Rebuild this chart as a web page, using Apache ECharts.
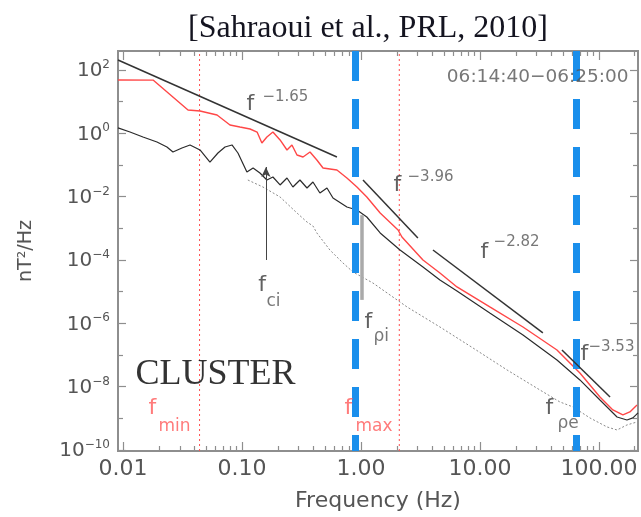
<!DOCTYPE html>
<html><head><meta charset="utf-8">
<script src="https://cdn.jsdelivr.net/npm/echarts@6/dist/echarts.min.js"></script>
<style>html,body{margin:0;padding:0;background:#fff}#c{width:641px;height:517px}</style>
</head><body><div id="c"></div>
<script>
// ---- data: frequency (Hz) and PSD (nT^2/Hz) ----
const redFreq = [0.00908,0.0179,0.0352,0.0444,0.0617,0.0793,0.0961,0.117,0.134,0.147,0.162,0.182,0.209,0.239,0.263,0.290,0.326,0.373,0.426,0.480,0.628,0.762,0.925,1.12,1.45,2.05,2.21,3.32,4.61,6.41,12.1,23.0,44.4,69.2,102,131,159,182,209];
const redPsd = [48.3,48,5.46,5.07,3.79,1.83,1.58,1.37,1.10,0.495,0.766,1.10,0.617,0.298,0.429,0.207,0.179,0.258,0.144,0.0805,0.0695,0.0389,0.0202,0.00977,0.00305,8.87e-4,5.33e-4,1.0e-4,3.89e-5,1.41e-5,3.29e-6,7.67e-7,1.44e-7,2.71e-8,4.73e-9,1.84e-9,1.28e-9,1.59e-9,2.64e-9];

const blackFreq = [0.00908,0.01145,0.01472,0.0193,0.0234,0.0263,0.0313,0.0366,0.0444,0.0538,0.0628,0.0720,0.0824,0.0925,0.110,0.124,0.1416,0.162,0.182,0.209,0.239,0.268,0.307,0.352,0.395,0.452,0.518,0.582,0.762,0.925,1.12,1.45,2.13,3.32,4.61,6.41,12.1,23.0,44.4,69.2,102,142,172,193,213];
const blackPsd = [1.48,1.10,0.766,0.533,0.371,0.258,0.344,0.429,0.298,0.124,0.239,0.371,0.429,0.239,0.0601,0.0805,0.0560,0.0336,0.0418,0.0234,0.0389,0.0202,0.0336,0.0188,0.0291,0.0131,0.0188,0.00908,0.00472,0.00379,0.00228,7.13e-4,2.07e-4,6.03e-5,2.34e-5,1.05e-5,2.12e-6,4.29e-7,6.97e-8,1.63e-8,3.80e-9,1.10e-9,8.89e-10,1.03e-9,1.48e-9];

const noiseFreq = [0.112,0.150,0.209,0.290,0.352,0.395,0.426,0.548,0.706,0.857,1.26,2.44,4.61,8.73,16.9,31.9,47.0,60.5,84.0,117,142,172,209];
const noisePsd = [0.0336,0.0202,0.00977,0.00305,0.00158,0.00119,7.13e-4,2.07e-4,8.05e-5,4.19e-5,1.88e-5,3.29e-6,7.67e-7,1.67e-7,3.37e-8,7.87e-9,3.29e-9,2.29e-9,1.03e-9,5.34e-10,4.29e-10,6.18e-10,7.68e-10];

// power-law fit segments (end points)
const fitFreqStart = [0.00908, 1.04, 4.03, 48.9];
const fitPsdStart  = [207, 0.0336, 2.07e-4, 1.44e-7];
const fitFreqEnd   = [0.628, 3.01, 33.8, 124];
const fitPsdEnd    = [0.179, 4.95e-4, 4.97e-7, 4.73e-9];

// vertical markers
const rangeFreq = [0.044, 2.1];          // f_min, f_max (red dotted)
const scaleFreq = [0.89, 65];            // blue dashed
const pointerFreq = [0.159, 1.02];       // f_ci arrow, f_rho_i bar
const pointerLow  = [1.0e-4, 5.5e-6];
const pointerHigh = [0.0865, 2.6e-3];

// axis ranges and ticks
const freqRange = [0.00908, 213];
const psdRange = [9.3e-11, 398];
const xTickValues = [0.01, 0.1, 1, 10, 100];
const xTickLabels = ['0.01', '0.10', '1.00', '10.00', '100.00'];
const yTickExponents = [2, 0, -2, -4, -6, -8, -10];
const yMinorExponents = [1, -1, -3, -5, -7, -9];

// annotations
const annoText = ['f','−1.65','f','−3.96','f','−2.82','f','−3.53','f','ci','f','ρi','f','ρe','f','min','f','max','CLUSTER','06:14:40−06:25:00'];
const annoFreq = [0.108,0.147,1.86,2.44,10.0,12.9,69.2,80.9,0.136,0.159,1.06,1.26,35.2,44.4,0.0162,0.0197,0.719,0.891,0.0126,179];
const annoPsd  = [8.43,14.0,0.0234,0.0418,1.79e-4,3.71e-4,1.08e-7,1.79e-7,1.63e-5,4.72e-6,1.10e-6,3.71e-7,2.12e-9,6.64e-10,2.12e-9,5.33e-10,2.12e-9,5.33e-10,2.34e-8,60.1];
const annoKind = ['f','sup','f','sup','f','sup','f','sup','f','sub','f','sub','f','sub','rf','rsub','rf','rsub','cluster','time'];

// ---- build ----
const L = Math.log10;
const SANS = 'DejaVu Sans';
const xMin = L(freqRange[0]), xMax = L(freqRange[1]);
const yMin = L(psdRange[0]), yMax = L(psdRange[1]);
const pairs = (fs, ps) => fs.map((f, i) => [L(f), L(ps[i])]);

const xMinor = [];
for (let d = -3; d <= 2; d++) for (let k = 2; k <= 9; k++) {
  const v = L(k * Math.pow(10, d));
  if (v > xMin && v < xMax) xMinor.push(v);
}
const xMajor = xTickValues.map(L);
const axisColor = '#8e8e8e';

function xAx(position, ticks, len, withLabels) {
  return {
    type: 'value', position, min: xMin, max: xMax,
    axisLine: { show: true, onZero: false, lineStyle: { color: axisColor, width: 2 } },
    axisTick: { show: true, inside: true, length: len, customValues: ticks, lineStyle: { color: axisColor, width: 1.2 } },
    axisLabel: withLabels ? {
      show: true, customValues: xMajor, margin: 7, color: '#555', fontSize: 22, fontFamily: SANS,
      formatter: v => { const i = xMajor.findIndex(t => Math.abs(t - v) < 1e-6); return i >= 0 ? xTickLabels[i] : ''; }
    } : { show: false },
    splitLine: { show: false },
    name: withLabels ? 'Frequency (Hz)' : '',
    nameLocation: 'middle', nameGap: 39,
    nameTextStyle: { color: '#555', fontSize: 22, fontFamily: SANS }
  };
}
function yAx(position, ticks, len, withLabels) {
  return {
    type: 'value', position, min: yMin, max: yMax,
    axisLine: { show: true, onZero: false, lineStyle: { color: axisColor, width: 2 } },
    axisTick: { show: true, inside: true, length: len, customValues: ticks, lineStyle: { color: axisColor, width: 1.2 } },
    axisLabel: withLabels ? {
      show: true, customValues: yTickExponents, margin: 8, color: '#555', fontFamily: SANS,
      formatter: v => { const e = Math.round(v); return '{b|10}{s|' + (e < 0 ? '−' + (-e) : e) + '}'; },
      rich: {
        b: { fontSize: 20, color: '#555', fontFamily: SANS, lineHeight: 22, verticalAlign: 'bottom' },
        s: { fontSize: 12, color: '#555', fontFamily: SANS, lineHeight: 12, verticalAlign: 'top' }
      }
    } : { show: false },
    splitLine: { show: false },
    name: withLabels ? 'nT²/Hz' : '',
    nameLocation: 'middle', nameGap: 82, nameRotate: 90,
    nameTextStyle: { color: '#555', fontSize: 19, fontFamily: SANS }
  };
}

const kindStyle = {
  f: { fontSize: 22, color: '#3a3a3a', fontFamily: SANS, position: 'right' },
  sup: { fontSize: 15, color: '#555', fontFamily: SANS, position: 'right' },
  sub: { fontSize: 17, color: '#555', fontFamily: SANS, position: 'right' },
  rf: { fontSize: 22, color: '#ff5a5a', fontFamily: SANS, position: 'right' },
  rsub: { fontSize: 17, color: '#ff5a5a', fontFamily: SANS, position: 'right' },
  cluster: { fontSize: 36, color: '#000000', fontFamily: 'Liberation Serif', position: 'right' },
  time: { fontSize: 18.5, color: '#555', fontFamily: SANS, position: 'left' }
};

const fitSeries = fitFreqStart.map((f, i) => ({
  type: 'line', symbol: 'none', silent: true, z: 5,
  data: [[L(f), L(fitPsdStart[i])], [L(fitFreqEnd[i]), L(fitPsdEnd[i])]],
  lineStyle: { color: '#333', width: 1.5 }
}));

const rangeSeries = rangeFreq.map(f => ({
  type: 'line', symbol: 'none', silent: true, z: 1,
  data: [[L(f), yMin], [L(f), yMax]],
  lineStyle: { color: '#ff5050', width: 1, type: [2, 3] }
}));

const vLine = (f, style) => [{ coord: [L(f), yMax], lineStyle: style }, { coord: [L(f), yMin] }];
const markData = [];
pointerFreq.forEach((f, i) => markData.push([
  { coord: [L(f), L(pointerLow[i])], symbol: 'none',
    lineStyle: i === 0 ? { color: '#444', width: 1, type: 'solid' } : { color: '#aaaaaa', width: 3.5, type: 'solid' } },
  { coord: [L(f), L(pointerHigh[i])], symbol: i === 0 ? 'arrow' : 'none', symbolSize: [7, 10] }
]));
scaleFreq.forEach(f => markData.push(vLine(f, { color: '#1a8fec', width: 7, type: [30, 18] })));

const chart = echarts.init(document.getElementById('c'), null, { renderer: 'canvas' });
chart.setOption({
  animation: false,
  backgroundColor: '#fff',
  title: {
    text: '[Sahraoui et al., PRL, 2010]', left: 183, top: 8,
    textStyle: { fontFamily: 'Liberation Serif', fontSize: 32, fontWeight: 'normal', color: '#141420' }
  },
  grid: { left: 118, right: 3, top: 51, bottom: 66, containLabel: false, outerBoundsMode: 'none' },
  xAxis: [xAx('bottom', xMajor, 9, true), xAx('bottom', xMinor, 5, false), xAx('top', xMajor, 9, false), xAx('top', xMinor, 5, false)],
  yAxis: [yAx('left', yTickExponents, 8, true), yAx('left', yMinorExponents, 5, false), yAx('right', yTickExponents, 8, false), yAx('right', yMinorExponents, 5, false)],
  series: [
    ...rangeSeries,
    { type: 'line', symbol: 'none', silent: true, z: 2, data: pairs(noiseFreq, noisePsd), lineStyle: { color: '#8a8a8a', width: 1, type: [2, 2] } },
    { type: 'line', symbol: 'none', silent: true, z: 3, data: pairs(blackFreq, blackPsd), lineStyle: { color: '#2b2b2b', width: 1.2 } },
    { type: 'line', symbol: 'none', silent: true, z: 4, data: pairs(redFreq, redPsd), lineStyle: { color: '#ff4747', width: 1.4 } },
    ...fitSeries,
    { type: 'line', symbol: 'none', silent: true, z: 6, data: [],
      markLine: { silent: true, symbol: ['none', 'none'], label: { show: false }, animation: false, data: markData } },
    { type: 'scatter', silent: true, z: 10, symbolSize: 1, itemStyle: { color: 'rgba(0,0,0,0)' },
      data: annoText.map((t, i) => {
        const s = kindStyle[annoKind[i]];
        return { value: [L(annoFreq[i]), L(annoPsd[i])],
          label: { show: true, formatter: t, position: s.position, distance: 0,
            fontSize: s.fontSize, color: s.color, fontFamily: s.fontFamily } };
      }) }
  ]
});
</script></body></html>
